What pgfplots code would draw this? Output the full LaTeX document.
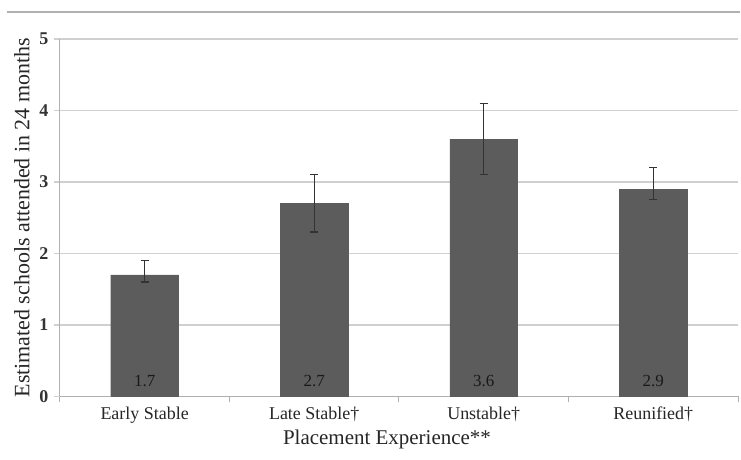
\documentclass[border=0pt]{standalone}
\usepackage{pgfplots}
\pgfplotsset{compat=1.18}
\usepackage{fontspec}
\setmainfont{Liberation Serif}
\definecolor{barc}{HTML}{5C5C5C}
\definecolor{gridc}{HTML}{D0D0D0}
\definecolor{axc}{HTML}{B0B0B0}
\begin{document}
\begin{tikzpicture}
\begin{axis}[
  scale only axis,
  width=679pt, height=358pt,
  xmin=-0.5, xmax=3.5,
  ymin=0, ymax=5,
  axis x line*=bottom, axis y line*=left,
  axis line style={axc, line width=1pt, -},
  xtick={0,1,2,3},
  xticklabels={Early Stable, Late Stable†, Unstable†, Reunified†},
  major x tick style={draw=none},
  minor xtick={-0.5,0.5,1.5,2.5,3.5},
  minor x tick style={axc, line width=1pt},
  minor tick length=6pt,
  ytick={0,1,2,3,4,5},
  major y tick style={gridc, line width=1.2pt},
  major tick length=6pt,
  tick align=outside,
  ymajorgrids,
  grid style={gridc, line width=1.2pt},
  /pgf/number format/assume math mode=true,
  yticklabel style={font=\fontsize{18}{19}\selectfont\bfseries, text=black!80, xshift=-2pt},
  xticklabel style={font=\fontsize{18}{19}\selectfont, text=black!85, yshift=-1pt},
  ylabel={Estimated schools attended in 24 months},
  ylabel style={font=\fontsize{22}{23}\selectfont, text=black!85, yshift=3pt},
  xlabel={Placement Experience**},
  xlabel style={font=\fontsize{21}{22}\selectfont, text=black!85, yshift=0pt, xshift=-12pt},
  clip=false,
]
\addplot[ybar, bar width=68pt, fill=barc, draw=barc,
  error bars/.cd, y dir=both, y explicit,
  error bar style={color=black!80, line width=1.3pt},
  error mark options={rotate=90, mark size=4pt, line width=1.3pt, black!80}]
coordinates {
  (0,1.7) += (0,0.2) -= (0,0.1)
  (1,2.7) += (0,0.4) -= (0,0.4)
  (2,3.6) += (0,0.5) -= (0,0.5)
  (3,2.9) += (0,0.3) -= (0,0.15)
};
\addplot[only marks, mark=none, nodes near coords, point meta=explicit symbolic,
  every node near coord/.append style={font=\fontsize{17}{18}\selectfont, text=black!90, anchor=center}]
coordinates {
  (0,0.22) [1.7]
  (1,0.22) [2.7]
  (2,0.22) [3.6]
  (3,0.22) [2.9]
};
\draw[axc, line width=2pt] ([xshift=-53pt, yshift=27pt]rel axis cs:0,1) -- ([xshift=2pt, yshift=27pt]rel axis cs:1,1);
\path ([xshift=-60pt, yshift=39pt]rel axis cs:0,1) rectangle ([xshift=2pt, yshift=-63pt]rel axis cs:1,0);
\end{axis}
\end{tikzpicture}
\end{document}
